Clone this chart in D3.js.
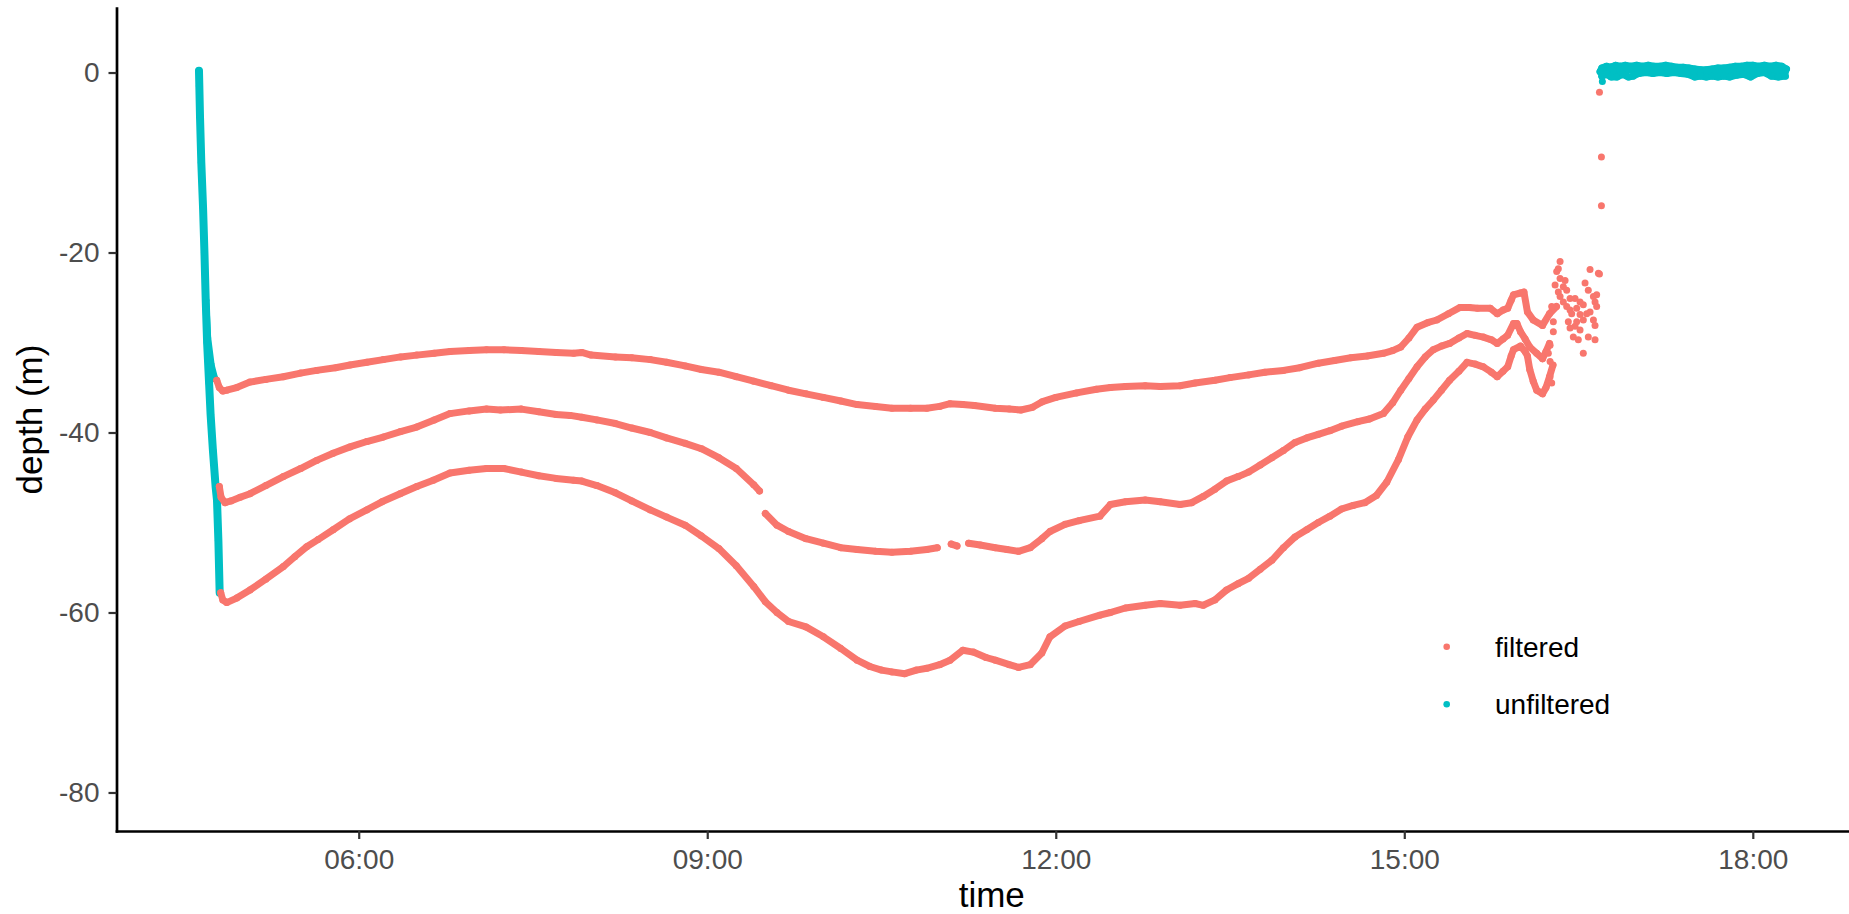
<!DOCTYPE html>
<html>
<head>
<meta charset="utf-8">
<script src="https://cdn.jsdelivr.net/npm/d3@7"></script>
<style>
  html, body { margin: 0; padding: 0; background: #fff; }
  svg { display: block; font-family: "Liberation Sans", Arial, sans-serif; }
</style>
</head>
<body>
<svg id="chart" width="1849" height="914"></svg>
<script>
// ---------- data (time in decimal hours, depth in metres) ----------
const tickLabels = ["06:00", "09:00", "12:00", "15:00", "18:00"];
const tickHours = [6, 9, 12, 15, 18];
const depthTicks = [0, -20, -40, -60, -80];
const depthTickLabels = ["0", "-20", "-40", "-60", "-80"];
const legendLabels = ["filtered", "unfiltered"];
const seriesColors = ["#F8766D", "#00BFC4"];

const unfilteredDescent = [[4.625,0.2],[4.628,-1.5],[4.634,-5.0],[4.645,-10.0],[4.660,-15.0],[4.672,-20.0],[4.683,-25.3],[4.695,-30.0],[4.712,-34.5],[4.725,-38.0],[4.745,-42.0],[4.768,-46.0],[4.780,-47.5],[4.792,-52.0],[4.803,-57.8]];
const unfilteredBranch = [[4.683,-25.3],[4.70,-29.5],[4.73,-32.5],[4.76,-34.0]];
const unfilteredSurfaceHigh = [[16.685,0.1],[16.70,0.5],[16.74,0.7],[16.78,0.6],[16.82,0.8],[16.86,0.7],[16.90,0.8],[16.95,0.7],[17.0,0.8],[17.05,0.7],[17.10,0.8],[17.15,0.7],[17.2,0.7],[17.25,0.8],[17.3,0.7],[17.35,0.6],[17.4,0.6],[17.45,0.5],[17.5,0.4],[17.55,0.3],[17.6,0.3],[17.65,0.4],[17.7,0.5],[17.75,0.5],[17.8,0.6],[17.85,0.7],[17.9,0.7],[17.95,0.8],[18.0,0.8],[18.05,0.7],[18.1,0.8],[18.15,0.7],[18.2,0.8],[18.25,0.7],[18.29,0.4]];
const unfilteredSurfaceMid = [[16.69,0.1],[16.80,0.2],[16.95,0.3],[17.10,0.3],[17.25,0.3],[17.40,0.2],[17.55,0.0],[17.70,0.0],[17.85,0.1],[18.00,0.2],[18.15,0.2],[18.28,0.1]];
const unfilteredSurfaceLow = [[16.70,-0.4],[16.74,-0.2],[16.78,-0.5],[16.83,-0.5],[16.88,-0.2],[16.93,-0.5],[16.97,-0.4],[17.02,-0.1],[17.08,0.0],[17.14,-0.1],[17.2,0.0],[17.26,-0.1],[17.32,0.0],[17.38,-0.1],[17.44,-0.2],[17.50,-0.5],[17.55,-0.4],[17.6,-0.5],[17.65,-0.4],[17.7,-0.5],[17.75,-0.4],[17.8,-0.5],[17.86,-0.3],[17.92,-0.2],[17.98,-0.5],[18.04,-0.1],[18.1,0.0],[18.16,-0.4],[18.22,-0.5],[18.28,-0.4]];
const unfilteredStray = [[16.705,-1.0]];

const filteredTop = [[4.778,-34.2],[4.80,-35.0],[4.83,-35.4],[4.864,-35.3],[4.95,-35.0],[5.064,-34.4],[5.2,-34.1],[5.351,-33.8],[5.5,-33.4],[5.638,-33.1],[5.8,-32.8],[5.925,-32.5],[6.07,-32.2],[6.212,-31.9],[6.36,-31.6],[6.499,-31.4],[6.65,-31.2],[6.786,-31.0],[6.95,-30.9],[7.1,-30.8],[7.25,-30.8],[7.4,-30.9],[7.55,-31.0],[7.7,-31.1],[7.85,-31.2],[7.92,-31.1],[8.0,-31.4],[8.21,-31.6],[8.35,-31.7],[8.51,-31.9],[8.65,-32.2],[8.81,-32.6],[8.95,-33.0],[9.10,-33.3],[9.25,-33.8],[9.40,-34.3],[9.55,-34.8],[9.70,-35.3],[9.85,-35.7],[10.0,-36.1],[10.15,-36.5],[10.29,-36.9],[10.45,-37.1],[10.59,-37.3],[10.75,-37.3],[10.89,-37.3],[11.0,-37.1],[11.09,-36.8],[11.2,-36.9],[11.3,-37.0],[11.48,-37.3],[11.6,-37.4],[11.7,-37.5],[11.8,-37.2],[11.88,-36.6],[12.0,-36.1],[12.18,-35.6],[12.35,-35.2],[12.47,-35.0],[12.6,-34.9],[12.77,-34.8],[12.9,-34.9],[13.07,-34.8],[13.2,-34.5],[13.37,-34.2],[13.5,-33.9],[13.66,-33.6],[13.8,-33.3],[13.96,-33.1],[14.1,-32.8],[14.26,-32.3],[14.4,-32.0],[14.54,-31.7],[14.68,-31.5],[14.82,-31.2],[14.9,-30.9],[14.97,-30.5],[15.04,-29.5],[15.11,-28.3],[15.2,-27.8],[15.28,-27.5],[15.38,-26.8],[15.48,-26.1],[15.56,-26.1],[15.63,-26.2],[15.74,-26.2],[15.80,-26.8],[15.85,-26.4],[15.89,-26.2],[15.92,-25.3],[15.94,-24.7],[16.0,-24.5],[16.03,-24.4],[16.06,-26.6],[16.11,-27.5],[16.19,-28.1],[16.25,-26.8],[16.31,-26.0]];

const filteredMiddle = [[4.80,-46.0],[4.815,-47.2],[4.849,-47.8],[4.9,-47.6],[4.98,-47.2],[5.064,-46.8],[5.2,-45.9],[5.351,-44.9],[5.5,-44.0],[5.638,-43.1],[5.78,-42.3],[5.925,-41.6],[6.07,-41.0],[6.212,-40.5],[6.36,-39.9],[6.499,-39.4],[6.65,-38.6],[6.786,-37.9],[6.95,-37.6],[7.1,-37.4],[7.22,-37.5],[7.4,-37.4],[7.55,-37.7],[7.7,-38.0],[7.82,-38.1],[7.92,-38.3],[8.05,-38.6],[8.21,-39.0],[8.35,-39.5],[8.51,-40.0],[8.65,-40.6],[8.81,-41.2],[8.95,-41.8],[9.10,-42.8],[9.25,-44.0],[9.40,-45.8],[9.45,-46.5],null,[9.5,-49.0],[9.6,-50.3],[9.70,-51.0],[9.85,-51.8],[10.0,-52.3],[10.15,-52.8],[10.29,-53.0],[10.45,-53.2],[10.59,-53.3],[10.75,-53.2],[10.89,-53.0],[10.98,-52.8],null,[11.1,-52.4],[11.15,-52.6],null,[11.25,-52.3],[11.35,-52.5],[11.48,-52.8],[11.58,-53.0],[11.68,-53.2],[11.78,-52.8],[11.88,-51.8],[11.95,-51.0],[12.08,-50.2],[12.2,-49.8],[12.38,-49.3],[12.47,-48.0],[12.6,-47.7],[12.77,-47.5],[12.9,-47.7],[13.07,-48.0],[13.17,-47.8],[13.27,-47.1],[13.37,-46.3],[13.47,-45.4],[13.57,-44.9],[13.66,-44.4],[13.76,-43.6],[13.86,-42.8],[13.96,-42.0],[14.06,-41.1],[14.16,-40.6],[14.26,-40.2],[14.36,-39.8],[14.46,-39.3],[14.6,-38.8],[14.7,-38.5],[14.82,-37.9],[14.9,-36.7],[14.97,-35.3],[15.04,-34.0],[15.11,-32.7],[15.18,-31.6],[15.25,-30.8],[15.32,-30.4],[15.39,-30.1],[15.47,-29.5],[15.54,-29.0],[15.61,-29.2],[15.68,-29.4],[15.75,-29.7],[15.80,-30.1],[15.85,-29.6],[15.89,-29.2],[15.94,-27.9],[15.97,-27.9],[16.0,-28.8],[16.04,-29.6],[16.08,-30.5],[16.14,-31.2],[16.19,-31.8],[16.22,-31.0],[16.25,-30.1]];

const filteredBottom = [[4.812,-57.8],[4.83,-58.6],[4.864,-58.9],[4.95,-58.4],[5.064,-57.5],[5.2,-56.3],[5.351,-54.9],[5.45,-53.8],[5.552,-52.7],[5.65,-51.9],[5.78,-50.8],[5.92,-49.6],[6.069,-48.6],[6.2,-47.7],[6.356,-46.8],[6.5,-46.0],[6.642,-45.3],[6.786,-44.5],[6.95,-44.2],[7.1,-44.0],[7.25,-44.0],[7.4,-44.4],[7.55,-44.8],[7.7,-45.1],[7.85,-45.3],[7.92,-45.4],[8.05,-45.9],[8.21,-46.7],[8.35,-47.6],[8.51,-48.6],[8.65,-49.4],[8.81,-50.3],[8.95,-51.5],[9.10,-52.9],[9.25,-54.8],[9.40,-57.1],[9.50,-58.8],[9.6,-60.0],[9.70,-61.0],[9.85,-61.6],[10.0,-62.7],[10.15,-64.0],[10.29,-65.3],[10.4,-66.0],[10.5,-66.4],[10.59,-66.6],[10.7,-66.8],[10.8,-66.4],[10.89,-66.2],[11.0,-65.8],[11.09,-65.3],[11.2,-64.2],[11.29,-64.4],[11.4,-65.0],[11.48,-65.3],[11.6,-65.8],[11.68,-66.1],[11.78,-65.8],[11.88,-64.5],[11.95,-62.7],[12.08,-61.5],[12.2,-61.0],[12.38,-60.3],[12.47,-60.0],[12.6,-59.5],[12.77,-59.2],[12.9,-59.0],[13.07,-59.2],[13.2,-59.0],[13.27,-59.2],[13.37,-58.6],[13.47,-57.5],[13.57,-56.8],[13.66,-56.2],[13.76,-55.2],[13.86,-54.2],[13.96,-52.8],[14.06,-51.6],[14.16,-50.8],[14.26,-50.0],[14.36,-49.3],[14.46,-48.5],[14.56,-48.1],[14.66,-47.8],[14.76,-47.0],[14.85,-45.5],[14.95,-43.0],[15.03,-40.5],[15.11,-38.6],[15.18,-37.4],[15.25,-36.4],[15.32,-35.3],[15.39,-34.2],[15.47,-33.2],[15.54,-32.2],[15.61,-32.4],[15.68,-32.7],[15.75,-33.3],[15.80,-33.8],[15.85,-33.2],[15.89,-32.7],[15.92,-31.5],[15.94,-30.8],[16.0,-30.4],[16.04,-31.0],[16.06,-31.5],[16.08,-33.0],[16.11,-34.3],[16.14,-35.3],[16.19,-35.7],[16.22,-35.0],[16.25,-33.8],[16.28,-32.5]];

const filteredScatter = [[16.341,-21.0],[16.326,-21.8],[16.312,-22.1],[16.341,-22.9],[16.384,-23.1],[16.298,-23.6],[16.369,-23.8],[16.326,-24.4],[16.398,-24.2],[16.341,-24.9],[16.427,-25.1],[16.369,-25.5],[16.470,-25.1],[16.513,-25.5],[16.556,-23.4],[16.584,-24.2],[16.599,-21.9],[16.671,-22.3],[16.628,-24.9],[16.656,-24.7],[16.642,-25.5],[16.656,-26.0],[16.541,-25.8],[16.484,-26.2],[16.427,-26.4],[16.398,-26.0],[16.441,-26.8],[16.513,-26.9],[16.570,-26.8],[16.599,-26.6],[16.541,-27.5],[16.484,-27.7],[16.412,-27.7],[16.470,-28.2],[16.628,-27.5],[16.642,-28.1],[16.513,-28.6],[16.584,-29.4],[16.455,-29.4],[16.498,-29.7],[16.642,-29.7],[16.541,-31.2],[16.427,-28.4],[16.283,-28.8],[16.255,-30.3],[16.240,-31.2],[16.255,-32.1],[16.255,-33.8],[16.269,-34.5],[16.283,-27.7],[16.269,-26.0],[16.68,-22.4],[16.68,-2.2],[16.697,-9.4],[16.697,-14.8]];

// ---------- layout ----------
const svg = d3.select("#chart");
const margin = { left: 116.5, top: 8, right: 1867, bottom: 831 };
const hourToDate = h => new Date(2020, 0, 1, 0, 0, 0, Math.round(h * 3600000));

const x = d3.scaleTime()
  .domain([hourToDate(3.915), hourToDate(18.983)])
  .range([margin.left, margin.right]);
const y = d3.scaleLinear()
  .domain([-84.28, 7.17])
  .range([margin.bottom, margin.top]);

const plot = svg.append("g");
const LW = 7;
const R = 3.5;

function drawSeries(data, color, width) {
  const line = d3.line()
    .defined(d => d != null)
    .x(d => x(hourToDate(d[0])))
    .y(d => y(d[1]));
  plot.append("path")
    .datum(data)
    .attr("d", line)
    .attr("fill", "none")
    .attr("stroke", color)
    .attr("stroke-width", width)
    .attr("stroke-linecap", "round")
    .attr("stroke-linejoin", "round");
  drawPoints(data, color);
}
function drawPoints(data, color) {
  plot.append("g").selectAll("circle")
    .data(data.filter(d => d != null))
    .join("circle")
    .attr("cx", d => x(hourToDate(d[0])))
    .attr("cy", d => y(d[1]))
    .attr("r", R)
    .attr("fill", color);
}

// unfiltered first, filtered on top
drawSeries(unfilteredDescent, seriesColors[1], 8);
drawSeries(unfilteredBranch, seriesColors[1], LW);
drawSeries(unfilteredSurfaceHigh, seriesColors[1], LW);
drawSeries(unfilteredSurfaceMid, seriesColors[1], LW);
drawSeries(unfilteredSurfaceLow, seriesColors[1], LW);
drawPoints(unfilteredStray, seriesColors[1]);

drawSeries(filteredTop, seriesColors[0], LW);
drawSeries(filteredMiddle, seriesColors[0], LW);
drawSeries(filteredBottom, seriesColors[0], LW);
drawPoints(filteredScatter, seriesColors[0]);

// ---------- axes ----------
const xAxis = d3.axisBottom(x)
  .tickValues(tickHours.map(hourToDate))
  .tickFormat((d, i) => tickLabels[i])
  .tickSize(8).tickSizeOuter(0).tickPadding(10);
const yAxis = d3.axisLeft(y)
  .tickValues(depthTicks)
  .tickFormat((d, i) => depthTickLabels[i])
  .tickSize(8).tickSizeOuter(0).tickPadding(9);

function styleAxis(g) {
  g.select(".domain").attr("stroke", "#000").attr("stroke-width", 2.7).attr("stroke-linecap", "square");
  g.selectAll(".tick line").attr("stroke", "#333333").attr("stroke-width", 2.2);
  g.selectAll(".tick text").attr("fill", "#4D4D4D").style("font-size", "28px")
    .style("font-family", '"Liberation Sans", Arial, sans-serif');
}
svg.append("g").attr("transform", `translate(0,${margin.bottom})`).call(xAxis).call(styleAxis);
svg.append("g").attr("transform", `translate(${margin.left},0)`).call(yAxis).call(styleAxis);

// ---------- titles ----------
svg.append("text")
  .attr("x", (margin.left + margin.right) / 2)
  .attr("y", 907)
  .attr("text-anchor", "middle")
  .style("font-size", "35px")
  .attr("fill", "#000")
  .text("time");
svg.append("text")
  .attr("transform", `translate(42,${(margin.top + margin.bottom) / 2}) rotate(-90)`)
  .attr("text-anchor", "middle")
  .style("font-size", "35px")
  .attr("fill", "#000")
  .text("depth (m)");

// ---------- legend ----------
const legend = svg.append("g").attr("transform", "translate(1446.7,646.7)");
const items = legend.selectAll("g").data(legendLabels).join("g")
  .attr("transform", (d, i) => `translate(0,${i * 57.6})`);
items.append("circle").attr("r", 3.3).attr("fill", (d, i) => seriesColors[i]);
items.append("text").attr("x", 48.3).attr("y", 10)
  .style("font-size", "28px").attr("fill", "#000").text(d => d);
</script>
</body>
</html>
